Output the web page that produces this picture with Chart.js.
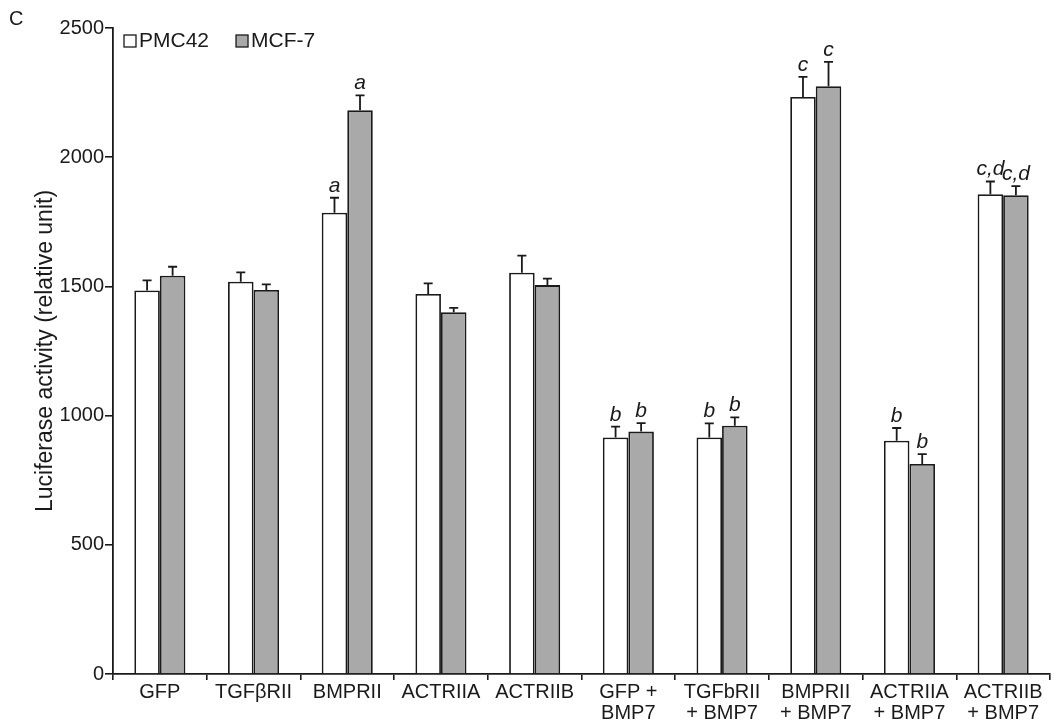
<!DOCTYPE html>
<html>
<head>
<meta charset="utf-8">
<script src="https://cdn.jsdelivr.net/npm/chart.js@4"></script>
<style>
  body { margin: 0; background: #fff; }
  #wrap { width: 1054px; height: 728px; position: relative; }
</style>
</head>
<body>
<div id="wrap"><canvas id="chart"></canvas></div>
<script>
const categories = [
    "GFP", "TGFβRII", "BMPRII", "ACTRIIA", "ACTRIIB",
    ["GFP +", "BMP7"], ["TGFbRII", "+ BMP7"], ["BMPRII", "+ BMP7"], ["ACTRIIA", "+ BMP7"], ["ACTRIIB", "+ BMP7"]
];
const pmc42 = [1484, 1518, 1785, 1471, 1553, 915, 915, 2233, 903, 1857];
const pmc42Err = [39, 36, 58, 41, 66, 42, 55, 78, 49, 49];
const mcf7 = [1541, 1486, 2182, 1400, 1505, 938, 961, 2275, 813, 1853];
const mcf7Err = [35, 22, 57, 17, 25, 33, 32, 94, 38, 35];
const pmc42Marks = ["", "", "a", "", "", "b", "b", "c", "b", "c,d"];
const mcf7Marks = ["", "", "a", "", "", "b", "b", "c", "b", "c,d"];
const yTicks = [0, 500, 1000, 1500, 2000, 2500];

const FONT = "'Liberation Sans', Arial, sans-serif";
const INK = "#1a1a1a";
const GREY = "#a9a9a9";

// error bars + significance letters above each bar
const errorBarPlugin = {
    id: "errorBars",
    afterDatasetsDraw(chart) {
        const ctx = chart.ctx;
        const y = chart.scales.y;
        chart.data.datasets.forEach((ds, di) => {
            const meta = chart.getDatasetMeta(di);
            meta.data.forEach((bar, i) => {
                const top = y.getPixelForValue(ds.data[i] + ds.errors[i]);
                ctx.save();
                ctx.strokeStyle = INK;
                ctx.lineWidth = 1.8;
                ctx.beginPath();
                ctx.moveTo(bar.x, bar.y);
                ctx.lineTo(bar.x, top);
                ctx.moveTo(bar.x - 4.5, top);
                ctx.lineTo(bar.x + 4.5, top);
                ctx.stroke();
                if (ds.marks[i]) {
                    ctx.fillStyle = INK;
                    ctx.font = "italic 21px " + FONT;
                    ctx.textAlign = "center";
                    ctx.textBaseline = "alphabetic";
                    ctx.fillText(ds.marks[i], bar.x, top - 6);
                }
                ctx.restore();
            });
        });
    }
};

// legend inside the plot, top-left, plus the panel letter
const legendPlugin = {
    id: "insideLegend",
    afterDraw(chart) {
        const ctx = chart.ctx;
        const area = chart.chartArea;
        ctx.save();
        ctx.fillStyle = INK;
        ctx.textAlign = "left";
        ctx.textBaseline = "alphabetic";
        ctx.font = "normal 20px " + FONT;
        ctx.fillText("C", 9, 25);
        ctx.textBaseline = "middle";
        ctx.font = "normal 21px " + FONT;
        let x = area.left + 11;
        const yMid = area.top + 13;
        chart.data.datasets.forEach(ds => {
            ctx.fillStyle = ds.backgroundColor;
            ctx.strokeStyle = INK;
            ctx.lineWidth = 1.3;
            ctx.fillRect(x, yMid - 6, 12, 12);
            ctx.strokeRect(x, yMid - 6, 12, 12);
            ctx.fillStyle = INK;
            ctx.fillText(ds.label, x + 15, yMid);
            x += 15 + ctx.measureText(ds.label).width + 27;
        });
        ctx.restore();
    }
};

new Chart(document.getElementById("chart"), {
    type: "bar",
    data: {
        labels: categories,
        datasets: [
            {
                label: "PMC42",
                data: pmc42,
                errors: pmc42Err,
                marks: pmc42Marks,
                backgroundColor: "#ffffff",
                borderColor: INK,
                borderWidth: 1.8,
                borderSkipped: "bottom"
            },
            {
                label: "MCF-7",
                data: mcf7,
                errors: mcf7Err,
                marks: mcf7Marks,
                backgroundColor: GREY,
                borderColor: INK,
                borderWidth: 1.8,
                borderSkipped: "bottom"
            }
        ]
    },
    options: {
        responsive: true,
        maintainAspectRatio: false,
        animation: false,
        layout: { padding: { top: 28, right: 4, left: 0, bottom: 0 } },
        datasets: {
            bar: { categoryPercentage: 0.545, barPercentage: 1.0 }
        },
        plugins: {
            legend: { display: false },
            tooltip: { enabled: false }
        },
        scales: {
            x: {
                grid: {
                    display: true,
                    drawOnChartArea: false,
                    drawTicks: true,
                    tickLength: 6,
                    offset: true,
                    color: INK,
                    lineWidth: 1.6
                },
                border: { display: true, color: INK, width: 1.8 },
                ticks: {
                    color: INK,
                    font: { family: FONT, size: 20, lineHeight: 1.05 },
                    maxRotation: 0,
                    autoSkip: false,
                    padding: 2
                },
                afterFit(scale) { scale.height = 54; }
            },
            y: {
                min: 0,
                max: 2500,
                afterBuildTicks(scale) {
                    scale.ticks = yTicks.map(v => ({ value: v }));
                },
                grid: {
                    display: true,
                    drawOnChartArea: false,
                    drawTicks: true,
                    tickLength: 8,
                    color: INK,
                    lineWidth: 1.6
                },
                border: { display: true, color: INK, width: 1.8 },
                ticks: {
                    color: INK,
                    font: { family: FONT, size: 20 },
                    padding: 1,
                    callback: v => String(v)
                },
                title: {
                    display: true,
                    text: "Luciferase activity (relative unit)",
                    color: INK,
                    font: { family: FONT, size: 23 },
                    padding: { top: 32, bottom: 0 }
                },
                afterFit(scale) { scale.width = 113; }
            }
        }
    },
    plugins: [errorBarPlugin, legendPlugin]
});
</script>
</body>
</html>
